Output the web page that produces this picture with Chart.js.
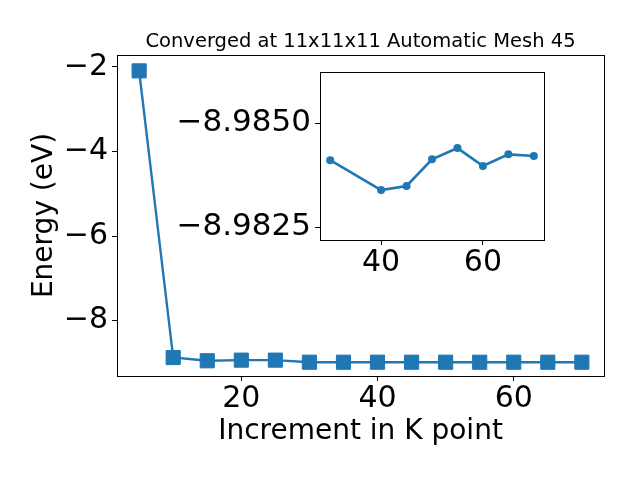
<!DOCTYPE html>
<html>
<head>
<meta charset="utf-8">
<script src="https://cdn.jsdelivr.net/npm/chart.js@4/dist/chart.umd.min.js"></script>
<style>
  html, body { margin: 0; padding: 0; background: #fff; }
  #wrap { position: relative; width: 640px; height: 480px; }
  #main { position: absolute; left: 0; top: 0; }
  #inset { position: absolute; left: 160px; top: 60px; }
</style>
</head>
<body>
<div id="wrap">
  <canvas id="main" width="640" height="480"></canvas>
  <canvas id="inset" width="400" height="240"></canvas>
</div>
<script>
const titleText = 'Converged at 11x11x11 Automatic Mesh 45';
const xLabel = 'Increment in K point';
const yLabel = 'Energy (eV)';

const kPoints = [5, 10, 15, 20, 25, 30, 35, 40, 45, 50, 55, 60, 65, 70];
const energy = [-2.095, -8.873, -8.95, -8.935, -8.935, -8.98411, -8.9840, -8.98339, -8.98349, -8.98413, -8.9844, -8.98397, -8.98425, -8.98421];
const mainXTicks = [20, 40, 60];
const mainYTicks = [-2, -4, -6, -8];

const insetK = [30, 40, 45, 50, 55, 60, 65, 70];
const insetEnergy = [-8.98411, -8.98339, -8.98349, -8.98413, -8.9844, -8.98397, -8.98425, -8.98421];
const insetXTicks = [40, 60];
const insetYTicks = [-8.9850, -8.9825];

const blue = '#1f77b4';
const FONT = 'DejaVu Sans';
const minus = s => String(s).replace('-', '\u2212');

const frame = {
  id: 'frame',
  beforeDraw(chart) {
    const a = chart.chartArea, c = chart.ctx;
    c.save(); c.fillStyle = '#fff';
    c.fillRect(a.left, a.top, a.right - a.left, a.bottom - a.top);
    c.restore();
  },
  afterDatasetsDraw(chart) {
    const a = chart.chartArea, c = chart.ctx;
    c.save(); c.strokeStyle = '#000'; c.lineWidth = 1;
    c.strokeRect(Math.round(a.left) + 0.5, Math.round(a.top) + 0.5,
      Math.round(a.right - a.left), Math.round(a.bottom - a.top));
    c.restore();
  }
};
const topTitle = {
  id: 'topTitle',
  afterDraw(chart) {
    const a = chart.chartArea, c = chart.ctx;
    c.save(); c.fillStyle = '#000'; c.font = '19.5px "' + FONT + '"';
    c.textAlign = 'center'; c.textBaseline = 'middle';
    c.fillText(titleText, (a.left + a.right) / 2, 42);
    c.restore();
  }
};

function axisGrid() {
  return { display: true, drawOnChartArea: false, drawTicks: true, tickLength: 5, tickColor: '#000', tickWidth: 1 };
}
function fitX(h) { return s => { s.height = h; s.paddingLeft = 0; s.paddingRight = 0; }; }
function fitY(w) { return s => { s.width = w; s.paddingTop = 0; s.paddingBottom = 0; }; }

new Chart(document.getElementById('main'), {
  type: 'line',
  data: {
    labels: kPoints,
    datasets: [{
      data: kPoints.map((k, i) => ({ x: k, y: energy[i] })),
      borderColor: blue, backgroundColor: blue, borderWidth: 2.4,
      pointStyle: 'rect', pointRadius: 10, pointHoverRadius: 10,
      pointBorderColor: blue, pointBackgroundColor: blue, pointBorderWidth: 1,
      tension: 0
    }]
  },
  options: {
    responsive: false, animation: false, devicePixelRatio: 1,
    layout: { padding: { left: 0, right: 36, top: 55, bottom: 0 } },
    plugins: { legend: { display: false }, tooltip: { enabled: false }, title: { display: false } },
    scales: {
      x: {
        type: 'linear', min: 1.75, max: 73.25,
        afterBuildTicks: s => { s.ticks = mainXTicks.map(v => ({ value: v })); },
        afterFit: fitX(104),
        grid: axisGrid(), border: { display: true, color: '#000' },
        ticks: { color: '#000', font: { family: FONT, size: 30 }, padding: 0, maxRotation: 0, autoSkip: false, callback: v => minus(v) },
        title: { display: true, text: xLabel, color: '#000', font: { family: FONT, size: 28 }, padding: { top: 0, bottom: 31 } }
      },
      y: {
        type: 'linear', min: -9.31, max: -1.72,
        afterBuildTicks: s => { s.ticks = mainYTicks.map(v => ({ value: v })); },
        afterFit: fitY(117),
        grid: axisGrid(), border: { display: true, color: '#000' },
        ticks: { color: '#000', font: { family: FONT, size: 30 }, padding: 4, autoSkip: false, callback: v => minus(v) },
        title: { display: true, text: yLabel, color: '#000', font: { family: FONT, size: 28 }, padding: { top: 28, bottom: 0 } }
      }
    }
  },
  plugins: [frame, topTitle]
});

new Chart(document.getElementById('inset'), {
  type: 'line',
  data: {
    labels: insetK,
    datasets: [{
      data: insetK.map((k, i) => ({ x: k, y: insetEnergy[i] })),
      borderColor: blue, backgroundColor: blue, borderWidth: 2.6,
      pointStyle: 'circle', pointRadius: 4, pointHoverRadius: 4,
      pointBorderColor: blue, pointBackgroundColor: blue, pointBorderWidth: 0,
      tension: 0
    }]
  },
  options: {
    responsive: false, animation: false, devicePixelRatio: 1,
    layout: { padding: { left: 0, right: 16, top: 12, bottom: 0 } },
    plugins: { legend: { display: false }, tooltip: { enabled: false }, title: { display: false } },
    scales: {
      x: {
        type: 'linear', min: 28, max: 72,
        afterBuildTicks: s => { s.ticks = insetXTicks.map(v => ({ value: v })); },
        afterFit: fitX(60),
        grid: axisGrid(), border: { display: true, color: '#000' },
        ticks: { color: '#000', font: { family: FONT, size: 30 }, padding: 0, maxRotation: 0, autoSkip: false }
      },
      y: {
        type: 'linear', reverse: true, min: -8.98623, max: -8.98219,
        afterBuildTicks: s => { s.ticks = insetYTicks.map(v => ({ value: v })); },
        afterFit: fitY(160),
        grid: axisGrid(), border: { display: true, color: '#000' },
        ticks: { color: '#000', font: { family: FONT, size: 31 }, padding: 4, autoSkip: false, callback: v => minus(Number(v).toFixed(4)) }
      }
    }
  },
  plugins: [frame]
});
</script>
</body>
</html>
